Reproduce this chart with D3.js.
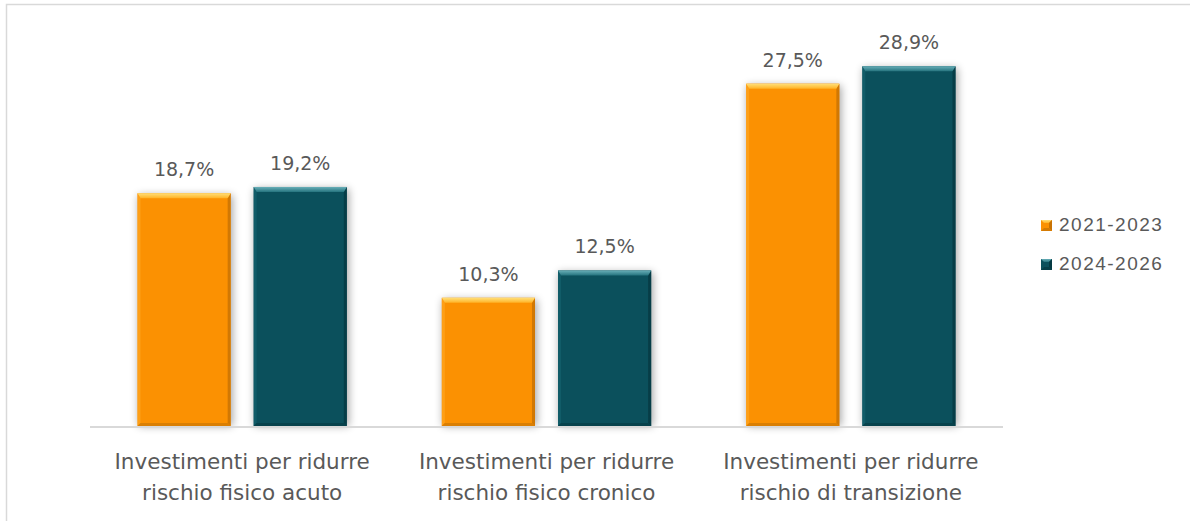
<!DOCTYPE html>
<html>
<head>
<meta charset="utf-8">
<script src="https://cdn.jsdelivr.net/npm/d3@7"></script>
<style>
  html, body { margin: 0; padding: 0; background: #ffffff; }
  svg { display: block; }
</style>
</head>
<body>
<svg id="chart" width="1190" height="521"></svg>
<script>
// Investment shares by risk type, two planning periods
const categories = [
  ["Investimenti per ridurre", "rischio fisico acuto"],
  ["Investimenti per ridurre", "rischio fisico cronico"],
  ["Investimenti per ridurre", "rischio di transizione"]
];
const seriesNames = ["2021-2023", "2024-2026"];
const values2021_2023 = [18.7, 10.3, 27.5];
const values2024_2026 = [19.2, 12.5, 28.9];
const seriesValues = [values2021_2023, values2024_2026];

const palette = {
  "2021-2023": { base: "#FB9102", top: ["#FFE07A", "#FFB327"], left: "#FFA21C", right: "#C97303", bottom: "#D47B04" },
  "2024-2026": { base: "#0B505C", top: ["#6AB0B9", "#26747F"], left: "#135F6B", right: "#063A43", bottom: "#073F49" }
};

const svg = d3.select("#chart");
const textColor = "#595959";
const labelFont = "'DejaVu Sans', sans-serif";

// Outer frame
svg.append("rect")
  .attr("x", 6.5).attr("y", 4.5)
  .attr("width", 1400).attr("height", 700)
  .attr("fill", "#ffffff")
  .attr("stroke", "#d9d9d9").attr("stroke-width", 1.5);

const defs = svg.append("defs");
const shadow = defs.append("filter").attr("id", "barShadow")
  .attr("x", "-30%").attr("y", "-10%").attr("width", "160%").attr("height", "120%");
shadow.append("feGaussianBlur").attr("stdDeviation", 4);

seriesNames.forEach((s, i) => {
  const g = defs.append("linearGradient").attr("id", "topBevel" + i)
    .attr("x1", 0).attr("y1", 0).attr("x2", 0).attr("y2", 1);
  g.append("stop").attr("offset", "0%").attr("stop-color", palette[s].top[0]);
  g.append("stop").attr("offset", "100%").attr("stop-color", palette[s].top[1]);
});

const plotLeft = 90, plotRight = 1003, baseY = 426;

const x = d3.scaleBand()
  .domain(d3.range(categories.length))
  .range([plotLeft, plotRight])
  .paddingInner(0).paddingOuter(0);

const xInner = d3.scaleBand()
  .domain(seriesNames)
  .range([47.5, x.bandwidth() - 47.5])
  .paddingInner(0.198).paddingOuter(0);

const y = d3.scaleLinear().domain([0, 30]).range([baseY, baseY - 373.5]);

const bars = [];
categories.forEach((c, ci) => {
  seriesNames.forEach((s, si) => {
    bars.push({ ci, si, s, v: seriesValues[si][ci] });
  });
});

const barG = svg.append("g");

// soft shadows behind the bars
barG.selectAll("rect.shadow").data(bars).join("rect")
  .attr("class", "shadow")
  .attr("x", d => x(d.ci) + xInner(d.s) + 1)
  .attr("y", d => y(d.v) + 2)
  .attr("width", xInner.bandwidth() + 1)
  .attr("height", d => baseY - y(d.v) - 2)
  .attr("fill", "#000")
  .attr("opacity", 0.35)
  .attr("filter", "url(#barShadow)");

const b = 5; // bevel width
const bar = barG.selectAll("g.bar").data(bars).join("g").attr("class", "bar");

bar.each(function(d) {
  const g = d3.select(this);
  const x0 = x(d.ci) + xInner(d.s);
  const w = xInner.bandwidth();
  const y0 = y(d.v);
  const h = baseY - y0;
  const p = palette[d.s];
  const s = 3; // side and bottom bevel width
  g.append("rect").attr("x", x0).attr("y", y0).attr("width", w).attr("height", h).attr("fill", p.base);
  const poly = pts => pts.map(q => q.join(",")).join(" ");
  g.append("polygon").attr("points", poly([[x0, y0], [x0 + s, y0 + b], [x0 + s, y0 + h - s], [x0, y0 + h]]))
    .attr("fill", p.left).attr("opacity", 0.8);
  g.append("polygon").attr("points", poly([[x0 + w, y0], [x0 + w - s, y0 + b], [x0 + w - s, y0 + h - s], [x0 + w, y0 + h]]))
    .attr("fill", p.right).attr("opacity", 0.85);
  g.append("polygon").attr("points", poly([[x0, y0 + h], [x0 + s, y0 + h - s], [x0 + w - s, y0 + h - s], [x0 + w, y0 + h]]))
    .attr("fill", p.bottom).attr("opacity", 0.85);
  g.append("polygon").attr("points", poly([[x0, y0], [x0 + w, y0], [x0 + w - s, y0 + b], [x0 + s, y0 + b]]))
    .attr("fill", `url(#topBevel${d.si})`);
});

// value labels
barG.selectAll("text.value").data(bars).join("text")
  .attr("class", "value")
  .attr("x", d => x(d.ci) + xInner(d.s) + xInner.bandwidth() / 2)
  .attr("y", d => y(d.v) - 17)
  .attr("text-anchor", "middle")
  .attr("font-family", labelFont)
  .attr("font-size", 19)
  .attr("fill", textColor)
  .text(d => d.v.toFixed(1).replace(".", ",") + "%");

// category axis line
svg.append("line")
  .attr("x1", plotLeft).attr("x2", plotRight)
  .attr("y1", baseY + 1).attr("y2", baseY + 1)
  .attr("stroke", "#d9d9d9").attr("stroke-width", 2);

// category labels
const catG = svg.append("g");
categories.forEach((lines, ci) => {
  const t = catG.append("text")
    .attr("x", x(ci) + x.bandwidth() / 2)
    .attr("y", 469)
    .attr("text-anchor", "middle")
    .attr("font-family", labelFont)
    .attr("font-size", 21.5)
    .attr("fill", textColor);
  lines.forEach((l, li) => {
    t.append("tspan").attr("x", x(ci) + x.bandwidth() / 2).attr("dy", li === 0 ? 0 : 31).text(l);
  });
});

// legend
const legend = svg.append("g").attr("transform", "translate(1041,220)");
seriesNames.forEach((s, i) => {
  const g = legend.append("g").attr("transform", `translate(0,${i * 39})`);
  const p = palette[s];
  g.append("rect").attr("x", 0).attr("y", 0).attr("width", 11).attr("height", 11).attr("fill", p.base);
  g.append("polygon").attr("points", "0,0 11,0 8,3 3,3").attr("fill", `url(#topBevel${i})`);
  g.append("polygon").attr("points", "11,0 11,11 8,8 8,3").attr("fill", p.right);
  g.append("polygon").attr("points", "0,11 11,11 8,8 3,8").attr("fill", p.bottom);
  g.append("text")
    .attr("x", 18).attr("y", 11)
    .attr("font-family", "'Liberation Sans', Arial, sans-serif")
    .attr("font-size", 19)
    .attr("letter-spacing", 1.5)
    .attr("fill", textColor)
    .text(s);
});
</script>
</body>
</html>
